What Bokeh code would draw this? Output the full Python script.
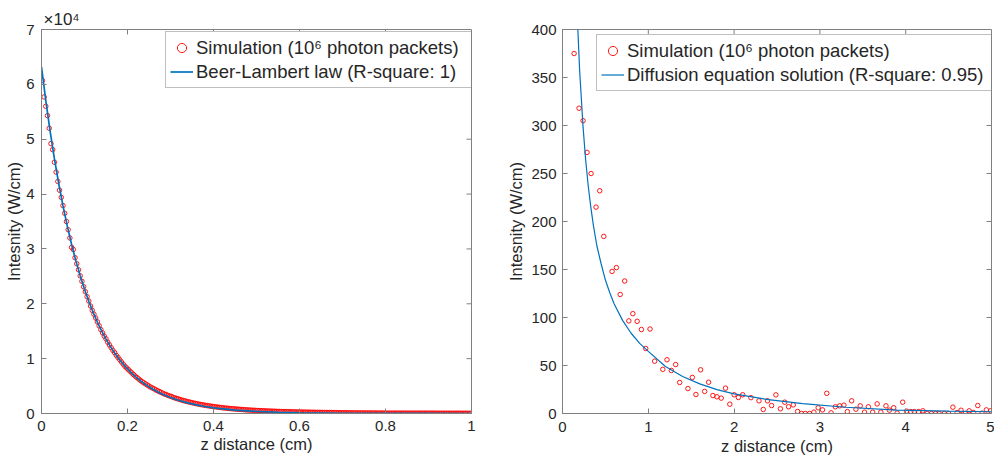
from bokeh.plotting import figure
from bokeh.models import (Range1d, FixedTicker, Legend, LegendItem, CustomJSTickFormatter)
from bokeh.layouts import row
from bokeh.embed import file_html
from bokeh.resources import INLINE

# ---------------- data (left: Beer-Lambert, intensity in units of 1e4 W/cm) ----------------
# simulation bins: centres every 0.004 cm
left_sim_z = [round(0.002 + 0.004 * i, 3) for i in range(250)]
left_sim_e4 = [
    6.07, 5.77, 5.60, 5.43, 5.20, 4.92, 4.81, 4.58, 4.40, 4.23,
    4.07, 3.94, 3.79, 3.65, 3.50, 3.35, 3.20, 3.03, 2.99, 2.84,
    2.73, 2.62, 2.51, 2.41, 2.31, 2.22, 2.13, 2.05, 1.96, 1.88,
    1.81, 1.74, 1.67, 1.60, 1.53, 1.47, 1.41, 1.36, 1.30, 1.25,
    1.20, 1.15, 1.11, 1.06, 1.02, 0.98, 0.94, 0.90, 0.86, 0.83,
    0.80, 0.77, 0.74, 0.71, 0.68, 0.655, 0.63, 0.605, 0.58, 0.56,
    0.54, 0.52, 0.50, 0.48, 0.465, 0.45, 0.43, 0.415, 0.40, 0.385,
    0.37, 0.355, 0.345, 0.33, 0.32, 0.31, 0.295, 0.285, 0.275, 0.265,
    0.255, 0.245, 0.237, 0.228, 0.22, 0.212, 0.205, 0.197, 0.19, 0.183,
    0.177, 0.17, 0.165, 0.159, 0.153, 0.148, 0.143, 0.138, 0.133, 0.129,
    0.124, 0.12, 0.116, 0.112, 0.108, 0.104, 0.101, 0.098, 0.094, 0.091,
    0.088, 0.085, 0.083, 0.080, 0.078, 0.075, 0.073, 0.071, 0.068, 0.066,
    0.064, 0.062, 0.060, 0.058, 0.057, 0.055, 0.053, 0.052, 0.050, 0.049,
    0.047, 0.046, 0.044, 0.043, 0.042, 0.041, 0.039, 0.038, 0.037, 0.036,
    0.035, 0.034, 0.033, 0.033, 0.032, 0.031, 0.030, 0.029, 0.029, 0.028,
    0.027, 0.026, 0.026, 0.025, 0.024, 0.024, 0.023, 0.022, 0.022, 0.021,
    0.021, 0.020, 0.020, 0.019, 0.019, 0.018, 0.018, 0.017, 0.017, 0.016,
    0.016, 0.016, 0.015, 0.015, 0.014, 0.014, 0.014, 0.013, 0.013, 0.013,
    0.012, 0.012, 0.012, 0.011, 0.011, 0.011, 0.011, 0.010, 0.010, 0.010,
    0.010, 0.009, 0.009, 0.009, 0.009, 0.008, 0.008, 0.008, 0.008, 0.008,
    0.007, 0.007, 0.007, 0.007, 0.007, 0.007, 0.007, 0.007, 0.007, 0.007,
    0.007, 0.007, 0.006, 0.006, 0.006, 0.006, 0.006, 0.006, 0.006, 0.006,
    0.006, 0.006, 0.006, 0.006, 0.006, 0.006, 0.006, 0.006, 0.006, 0.006,
    0.005, 0.005, 0.005, 0.005, 0.005, 0.005, 0.005, 0.005, 0.005, 0.005,
    0.005, 0.005, 0.005, 0.005, 0.005, 0.004, 0.004, 0.004, 0.004, 0.004,
]
left_fit_z = [0.0, 0.01, 0.02, 0.03, 0.04, 0.05, 0.06, 0.07, 0.08, 0.09,
              0.10, 0.11, 0.12, 0.13, 0.14, 0.15, 0.16, 0.17, 0.18, 0.19,
              0.20, 0.21, 0.22, 0.23, 0.24, 0.25, 0.26, 0.27, 0.28, 0.29,
              0.30, 0.32, 0.34, 0.36, 0.38, 0.40,
              0.45, 0.50, 0.55, 0.60, 0.70, 0.80, 0.90, 1.00]
left_fit_e4 = [6.32, 5.704, 5.148, 4.646, 4.193, 3.784, 3.415, 3.082, 2.782, 2.510,
               2.266, 2.045, 1.845, 1.665, 1.503, 1.357, 1.224, 1.105, 0.997, 0.900,
               0.812, 0.733, 0.662, 0.597, 0.539, 0.486, 0.439, 0.396, 0.357, 0.323,
               0.291, 0.237, 0.193, 0.157, 0.128, 0.104,
               0.063, 0.038, 0.023, 0.0135, 0.005, 0.0018, 0.0006, 0.0002]

# ---------------- data (right: diffusion equation, W/cm) ----------------
right_sim_z = [0.135, 0.193, 0.24, 0.286, 0.333, 0.391, 0.434, 0.481,
               0.578, 0.628, 0.672, 0.725, 0.773, 0.82, 0.87, 0.92, 0.97, 1.02,
               1.074, 1.169, 1.218, 1.269, 1.319, 1.366, 1.462, 1.513, 1.555,
               1.61, 1.657, 1.703, 1.753, 1.80, 1.85, 1.90, 1.95, 2.0,
               2.05, 2.10, 2.196, 2.29, 2.34, 2.39, 2.437, 2.487, 2.54, 2.59, 2.635, 2.69, 2.74,
               2.786, 2.83, 2.88, 2.93, 2.98, 3.03, 3.08, 3.13, 3.18, 3.23,
               3.28, 3.32, 3.37, 3.42, 3.47, 3.52, 3.565, 3.615, 3.667, 3.71, 3.77, 3.81, 3.86, 3.90,
               3.965, 4.01, 4.06, 4.10, 4.15, 4.20, 4.25, 4.30, 4.35, 4.39, 4.45, 4.50,
               4.55, 4.60, 4.645, 4.695, 4.74, 4.79, 4.84, 4.89, 4.94, 4.99]
right_sim_v = [375, 318, 305, 272, 250, 215, 232, 184.5,
               148, 152, 124, 138, 96.5, 104, 96, 87.5, 67.7, 88,
               54.5, 46, 56, 44.8, 51, 32.3, 26, 37.6, 19.8,
               45.5, 23, 32.6, 18.7, 17.4, 16, 26.4, 9.7, 19.5,
               16.7, 19.5, 16.5, 13.2, 4.2, 13.2, 8.3, 19.4, 4.9, 11.8, 7, 9, 2.1,
               0, 0, 0, 1.4, 6, 3.8, 21, 0.7, 7, 8,
               8.7, 2, 13.2, 4.5, 8, 1.4, 7, 1.4, 10, 1.4, 8, 3.5, 6, 0.4,
               11.8, 2.4, 2, 2, 2, 2.8, 0, 0, 0, 0, 0, 0,
               6.6, 1, 3.4, 0, 2.8, 1, 8.3, 0.4, 3.8, 2.8]
right_fit_z = [0.16, 0.18, 0.2, 0.24, 0.27, 0.3, 0.33, 0.36, 0.4, 0.45, 0.5, 0.55, 0.6,
               0.7, 0.8, 0.9, 1.0, 1.2, 1.4, 1.6, 1.8, 2.0, 2.4, 2.8, 3.3, 3.9, 4.5, 5.0]
right_fit_v = [450, 398, 357, 298, 264, 237, 215, 196, 175, 156, 139, 126, 114.5,
               97, 83.6, 73, 64.7, 49, 38.6, 30.9, 24.8, 20.5, 14.4, 10.3, 6.5, 3.6, 2.45, 1.8]

left_xticks = [0, 0.2, 0.4, 0.6, 0.8, 1]
left_yticks = [0, 1, 2, 3, 4, 5, 6, 7]
right_xticks = [0, 1, 2, 3, 4, 5]
right_yticks = [0, 50, 100, 150, 200, 250, 300, 350, 400]

x_title = "z distance (cm)"
y_title = "Intesnity (W/cm)"
left_exponent = "\u00d710\u2074"
left_labels = ["Simulation (10\u2076 photon packets)", "Beer-Lambert law (R-square: 1)"]
right_labels = ["Simulation (10\u2076 photon packets)", "Diffusion equation solution (R-square: 0.95)"]

# ---------------- styling ----------------
FONT = "Liberation Sans"
AX = "#808080"
TXT = "#262626"
RED = "#ff0000"
BLUE = "#0072bd"
TICK_PX = 5


def style(p, xr, yr, xt, yt, frame_w, frame_h, xstand, xlab_stand, ystand, ylab_stand):
    p.xgrid.visible = False
    p.ygrid.visible = False
    p.outline_line_color = AX
    p.outline_line_width = 1
    fmt = CustomJSTickFormatter(code="return String(tick)")
    for ax, ticks in ((p.xaxis[0], xt), (p.yaxis[0], yt)):
        ax.ticker = FixedTicker(ticks=ticks)
        ax.formatter = fmt
        ax.axis_line_color = AX
        ax.major_tick_line_color = AX
        ax.major_tick_in = TICK_PX
        ax.major_tick_out = 0
        ax.minor_tick_line_color = None
        ax.major_label_text_font = FONT
        ax.major_label_text_font_size = "15px"
        ax.major_label_text_color = TXT
        ax.axis_label_text_font = FONT
        ax.axis_label_text_font_size = "16.5px"
        ax.axis_label_text_font_style = "normal"
        ax.axis_label_text_color = TXT
    p.xaxis[0].major_label_standoff = xstand
    p.xaxis[0].axis_label_standoff = xlab_stand
    p.yaxis[0].major_label_standoff = ystand
    p.yaxis[0].axis_label_standoff = ylab_stand
    p.xaxis[0].axis_label = x_title
    p.yaxis[0].axis_label = y_title
    # mirrored inward ticks on the top and right edges of the box (MATLAB style)
    dy = TICK_PX / frame_h * (yr[1] - yr[0])
    dx = TICK_PX / frame_w * (xr[1] - xr[0])
    inner_x = [t for t in xt if xr[0] < t < xr[1]]
    inner_y = [t for t in yt if yr[0] < t < yr[1]]
    p.segment(x0=inner_x, y0=[yr[1]] * len(inner_x), x1=inner_x, y1=[yr[1] - dy] * len(inner_x),
              line_color=AX, line_width=1)
    p.segment(x0=[xr[1]] * len(inner_y), y0=inner_y, x1=[xr[1] - dx] * len(inner_y), y1=inner_y,
              line_color=AX, line_width=1)


def make_legend(items, loc, label_width):
    return Legend(items=items, location=loc, margin=0, padding=4, spacing=1,
                  glyph_width=23, glyph_height=23, label_height=23, label_standoff=3,
                  label_width=label_width, label_text_font=FONT,
                  label_text_font_size="18.5px", label_text_color=TXT,
                  border_line_color=AX, border_line_width=1,
                  background_fill_color="white", background_fill_alpha=1.0)


# ---------------- left figure ----------------
L_W, L_BL, L_BR, L_BT, L_BB = 497, 41, 26, 29, 45
p1 = figure(width=L_W, height=461, output_backend="svg", toolbar_location=None,
            x_range=Range1d(0, 1), y_range=Range1d(0, 7),
            min_border_left=L_BL, min_border_right=L_BR, min_border_top=L_BT,
            min_border_bottom=L_BB)
p1.title.text = left_exponent
p1.title.align = "left"
p1.title.offset = 2
p1.title.standoff = 1
p1.title.text_font = FONT
p1.title.text_font_size = "17px"
p1.title.text_font_style = "normal"
p1.title.text_color = TXT
style(p1, (0, 1), (0, 7), left_xticks, left_yticks, L_W - L_BL - L_BR, 461 - L_BT - L_BB,
      7, 1, 7, 0)
s1 = p1.scatter(left_sim_z, left_sim_e4, marker="circle", size=4.5, fill_color=None,
                line_color=RED, line_width=0.9)
l1 = p1.line(left_fit_z, left_fit_e4, line_color=BLUE, line_width=1.7)
p1.add_layout(make_legend([LegendItem(label=left_labels[0], renderers=[s1]),
                           LegendItem(label=left_labels[1], renderers=[l1])],
                          (124, 325), 271))

# ---------------- right figure ----------------
R_W, R_BL, R_BR, R_BT, R_BB = 497, 65, 3, 29, 48
p2 = figure(width=R_W, height=461, output_backend="svg", toolbar_location=None,
            x_range=Range1d(0, 5), y_range=Range1d(0, 400),
            min_border_left=R_BL, min_border_right=R_BR, min_border_top=R_BT,
            min_border_bottom=R_BB)
style(p2, (0, 5), (0, 400), right_xticks, right_yticks, R_W - R_BL - R_BR, 461 - R_BT - R_BB,
      8, 2, 6, 3)
s2 = p2.scatter(right_sim_z, right_sim_v, marker="circle", size=4.5, fill_color=None,
                line_color=RED, line_width=0.9)
l2 = p2.line(right_fit_z, right_fit_v, line_color=BLUE, line_width=1.2)
p2.add_layout(make_legend([LegendItem(label=right_labels[0], renderers=[s2]),
                           LegendItem(label=right_labels[1], renderers=[l2])],
                          (34, 322), 360))

layout = row(p1, p2)
open("out.html", "w").write(file_html(layout, INLINE))
